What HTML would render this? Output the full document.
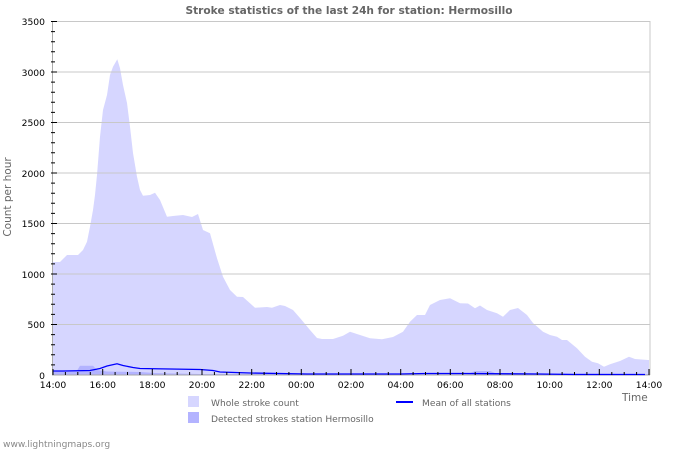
<!DOCTYPE html>
<html><head><meta charset="utf-8"><style>
body{margin:0;background:#fff;}
svg{display:block;font-family:"DejaVu Sans","Liberation Sans",sans-serif;}
</style></head><body>
<svg width="700" height="450" viewBox="0 0 700 450" xmlns="http://www.w3.org/2000/svg">
<text x="349" y="14" text-anchor="middle" font-size="10.6" font-weight="bold" fill="#666">Stroke statistics of the last 24h for station: Hermosillo</text>
<polygon fill="#d6d6ff" points="53,375 53,262 60,262 64,258 67,255 78,255 83,250 87,241.7 90,226.7 93,210 95,195 97,175 100,136.7 103,110 107,95 110,75 113,66.7 117.3,59.3 120,68.3 123,85 127,103 130,126.7 133,153 137,176.7 140,190 143,195.7 150,195 155,192.7 160,200 167,216.7 173,216 183,215 192,217 198,214 203,230 210,233.3 217,258.3 223,276.7 230,290 237,296.7 243,297 250,303.3 255,307.7 267,307 272,307.7 280,305 285,306 293,310 300,318 305,324 310,330 317,338 322,339 333,339 343,335.7 350,331.7 360,335 370,338.3 382,339.3 393,337 403,331.7 410,321.7 417,315 425,315 430,305 440,300 450,298.3 460,303.3 468,303.5 475,308.3 480,305.5 487,310 497,313.3 503,316.7 510,310 518,308 527,315 533,323 543,331.7 550,335 557,336.7 562,340 567,340 577,348.3 585,356.7 592,361.7 598,363.3 604,366.7 610,364.3 620,361 629,356.7 635,359 648,360 649,360 649,375"/>
<polygon fill="#b3b3ff" points="53,375 53,371 63,370.7 77,370.7 80,365.7 93,365.7 97,370 107,371.5 140,372 155,373 200,374 420,374 440,373 470,373 475,371 490,371 495,373 649,374 649,375"/>
<g stroke="#c8c8c8" stroke-width="1">
<line x1="53" y1="21.5" x2="650" y2="21.5"/>
<line x1="53" y1="72" x2="650" y2="72"/>
<line x1="53" y1="122.5" x2="650" y2="122.5"/>
<line x1="53" y1="173" x2="650" y2="173"/>
<line x1="53" y1="223.5" x2="650" y2="223.5"/>
<line x1="53" y1="274" x2="650" y2="274"/>
<line x1="53" y1="324.5" x2="650" y2="324.5"/>
<line x1="650" y1="21" x2="650" y2="375"/>
</g>
<line x1="52.5" y1="21" x2="52.5" y2="375" stroke="#aaa"/>
<line x1="52" y1="375" x2="650" y2="375" stroke="#aaa"/>
<polyline fill="none" stroke="#0000ff" stroke-width="1.3" points="53,371 63,371 90,370.5 100,368.5 107,366 117,363.8 123,365.5 133,367.5 140,368.5 200,369.5 213,370.5 220,372 250,373 307,374 400,374 425,373.5 465,373.5 537,374 575,374.5 620,374.5 645,374.5"/>
<g stroke="#000" stroke-width="1">
<path d="M51 31.6h4M51 41.7h4M51 51.8h4M51 61.9h4M51 82.1h4M51 92.2h4M51 102.3h4M51 112.4h4M51 132.6h4M51 142.7h4M51 152.8h4M51 162.9h4M51 183.1h4M51 193.2h4M51 203.3h4M51 213.4h4M51 233.6h4M51 243.7h4M51 253.8h4M51 263.9h4M51 284.1h4M51 294.2h4M51 304.3h4M51 314.4h4M51 334.6h4M51 344.7h4M51 354.8h4M51 364.9h4"/>
<path d="M51 21.5h6M51 72h6M51 122.5h6M51 173h6M51 223.5h6M51 274h6M51 324.5h6"/>
</g>
<g stroke="#000" stroke-width="1" id="xt"></g>
<g font-size="9.2" fill="#000" text-anchor="end">
<text x="45" y="25">3500</text><text x="45" y="76">3000</text><text x="45" y="126">2500</text><text x="45" y="177">2000</text><text x="45" y="227">1500</text><text x="45" y="278">1000</text><text x="45" y="328">500</text><text x="45" y="379">0</text>
</g>
<g font-size="9.2" fill="#000" text-anchor="middle">
<text x="53" y="388">14:00</text><text x="102.7" y="388">16:00</text><text x="152.3" y="388">18:00</text><text x="202" y="388">20:00</text><text x="251.7" y="388">22:00</text><text x="301.3" y="388">00:00</text><text x="351" y="388">02:00</text><text x="400.7" y="388">04:00</text><text x="450.3" y="388">06:00</text><text x="500" y="388">08:00</text><text x="549.7" y="388">10:00</text><text x="599.3" y="388">12:00</text><text x="649" y="388">14:00</text>
</g>
<text x="622" y="401" font-size="10.5" fill="#666">Time</text>
<text transform="translate(11,197) rotate(-90)" text-anchor="middle" font-size="10.5" fill="#666">Count per hour</text>
<rect x="188" y="396" width="11" height="11" fill="#d6d6ff"/>
<rect x="188" y="412" width="11" height="11" fill="#b3b3ff"/>
<text x="211" y="406" font-size="9.1" fill="#666">Whole stroke count</text>
<text x="211" y="422" font-size="9.1" fill="#666">Detected strokes station Hermosillo</text>
<line x1="396" y1="402" x2="413" y2="402" stroke="#0000ff" stroke-width="2"/>
<text x="422" y="406" font-size="9.1" fill="#666">Mean of all stations</text>
<text x="3" y="447" font-size="9.1" fill="#888">www.lightningmaps.org</text>
<script>
var g=document.getElementById('xt'),s='';
for(var i=0;i<=48;i++){var x=53+i*596/48;var h=(i%4==0)?6:3;s+='M'+x.toFixed(1)+' 375v-'+h;}
var p=document.createElementNS('http://www.w3.org/2000/svg','path');p.setAttribute('d',s);g.appendChild(p);
</script>
</svg>
</body></html>
